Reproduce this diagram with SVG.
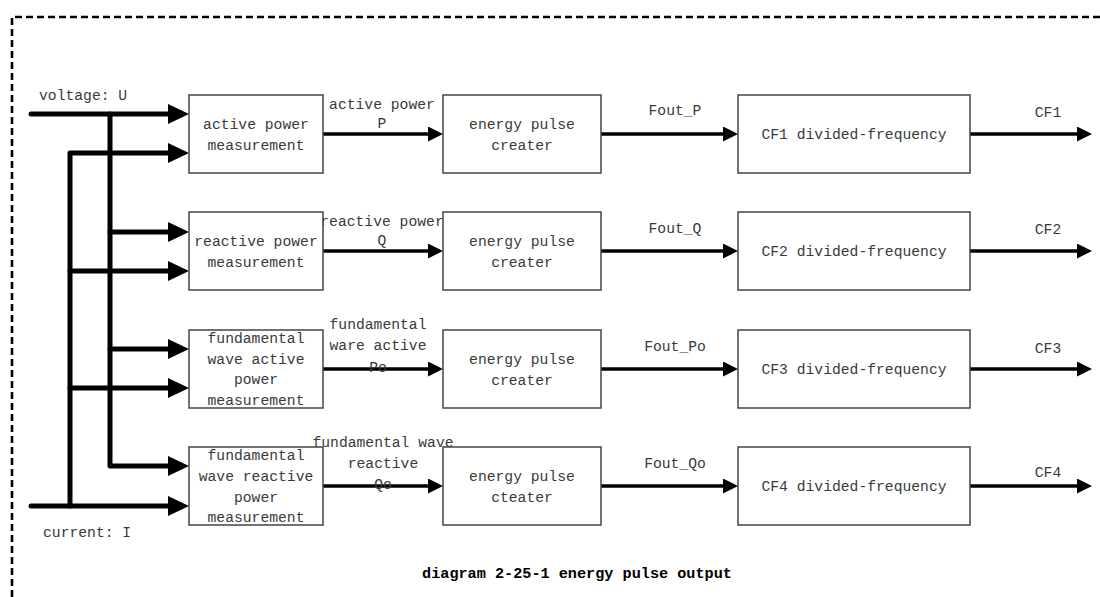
<svg xmlns="http://www.w3.org/2000/svg" width="1100" height="597" viewBox="0 0 1100 597">
  <style>
    .frame { fill: none; stroke: #000; stroke-width: 2.6; stroke-dasharray: 7 4; }
    .box { fill: #fff; stroke: #444; stroke-width: 1.5; }
    .bus { fill: none; stroke: #000; stroke-width: 5; stroke-linecap: round; stroke-linejoin: round; }
    .link { fill: none; stroke: #000; stroke-width: 3.5; }
    text { font-family: "Liberation Mono", "DejaVu Sans Mono", monospace; font-size: 14.7px; fill: #3a3a3a; }
    .c { text-anchor: middle; }
    .cap { font-weight: bold; fill: #000; font-size: 15.2px; }
  </style>
  <defs>
    <marker id="bigHead" markerUnits="userSpaceOnUse" markerWidth="22" markerHeight="22" refX="0" refY="10" orient="auto">
      <path d="M0,0 L21,10 L0,20 z" fill="#000"/>
    </marker>
    <marker id="head" markerUnits="userSpaceOnUse" markerWidth="16" markerHeight="16" refX="0" refY="7.5" orient="auto">
      <path d="M0,0 L15,7.5 L0,15 z" fill="#000"/>
    </marker>
  </defs>

  <rect width="1100" height="597" fill="#fff"/>

  <!-- dashed enclosure -->
  <path class="frame" d="M12,597 L12,17 L1100,17"/>

  <!-- connectors -->
  <g id="connectors">
    <!-- voltage and current buses -->
    <path class="bus" d="M31,114 L168,114" marker-end="url(#bigHead)"/>
    <path class="bus" d="M110,114 L110,466 L168,466" marker-end="url(#bigHead)"/>
    <path class="bus" d="M31,506 L168,506" marker-end="url(#bigHead)"/>
    <path class="bus" d="M70,506 L70,153 L168,153" marker-end="url(#bigHead)"/>
    <path class="bus" d="M110,232 L168,232" marker-end="url(#bigHead)"/>
    <path class="bus" d="M70,271 L168,271" marker-end="url(#bigHead)"/>
    <path class="bus" d="M110,349 L168,349" marker-end="url(#bigHead)"/>
    <path class="bus" d="M70,388 L168,388" marker-end="url(#bigHead)"/>

    <!-- measurement to pulse creater -->
    <path class="link" d="M323,134 L428,134" marker-end="url(#head)"/>
    <path class="link" d="M323,251 L428,251" marker-end="url(#head)"/>
    <path class="link" d="M323,369 L428,369" marker-end="url(#head)"/>
    <path class="link" d="M323,486 L428,486" marker-end="url(#head)"/>

    <!-- pulse creater to divider -->
    <path class="link" d="M601,134 L723,134" marker-end="url(#head)"/>
    <path class="link" d="M601,251 L723,251" marker-end="url(#head)"/>
    <path class="link" d="M601,369 L723,369" marker-end="url(#head)"/>
    <path class="link" d="M601,486 L723,486" marker-end="url(#head)"/>

    <!-- divider outputs -->
    <path class="link" d="M970,134 L1077,134" marker-end="url(#head)"/>
    <path class="link" d="M970,251 L1077,251" marker-end="url(#head)"/>
    <path class="link" d="M970,369 L1077,369" marker-end="url(#head)"/>
    <path class="link" d="M970,486 L1077,486" marker-end="url(#head)"/>

    <!-- connector labels -->
    <text x="39" y="100">voltage: U</text>
    <text x="43" y="537">current: I</text>

    <text class="c" x="382" y="109">active power</text>
    <text class="c" x="382" y="128">P</text>
    <text class="c" x="382" y="226">reactive power</text>
    <text class="c" x="382" y="245">Q</text>
    <text class="c" x="378" y="329">fundamental</text>
    <text class="c" x="378" y="350">ware active</text>
    <text class="c" x="378" y="372">Po</text>
    <text class="c" x="383" y="447">fundamental wave</text>
    <text class="c" x="383" y="468">reactive</text>
    <text class="c" x="383" y="489">Qo</text>

    <text class="c" x="675" y="115">Fout_P</text>
    <text class="c" x="675" y="233">Fout_Q</text>
    <text class="c" x="675" y="351">Fout_Po</text>
    <text class="c" x="675" y="468">Fout_Qo</text>

    <text class="c" x="1048" y="117">CF1</text>
    <text class="c" x="1048" y="234">CF2</text>
    <text class="c" x="1048" y="353">CF3</text>
    <text class="c" x="1048" y="477">CF4</text>
  </g>

  <!-- measurement blocks -->
  <g id="active-power-measurement">
    <rect class="box" x="189" y="95" width="134" height="78"/>
    <text class="c" x="256" y="129">active power</text>
    <text class="c" x="256" y="150">measurement</text>
  </g>
  <g id="reactive-power-measurement">
    <rect class="box" x="189" y="212" width="134" height="78"/>
    <text class="c" x="256" y="246">reactive power</text>
    <text class="c" x="256" y="267">measurement</text>
  </g>
  <g id="fundamental-active-measurement">
    <rect class="box" x="189" y="330" width="134" height="78"/>
    <text class="c" x="256" y="343">fundamental</text>
    <text class="c" x="256" y="364">wave active</text>
    <text class="c" x="256" y="384">power</text>
    <text class="c" x="256" y="405">measurement</text>
  </g>
  <g id="fundamental-reactive-measurement">
    <rect class="box" x="189" y="447" width="134" height="78"/>
    <text class="c" x="256" y="460">fundamental</text>
    <text class="c" x="256" y="481">wave reactive</text>
    <text class="c" x="256" y="502">power</text>
    <text class="c" x="256" y="522">measurement</text>
  </g>

  <!-- pulse creaters -->
  <g id="pulse-creater-1">
    <rect class="box" x="443" y="95" width="158" height="78"/>
    <text class="c" x="522" y="129">energy pulse</text>
    <text class="c" x="522" y="150">creater</text>
  </g>
  <g id="pulse-creater-2">
    <rect class="box" x="443" y="212" width="158" height="78"/>
    <text class="c" x="522" y="246">energy pulse</text>
    <text class="c" x="522" y="267">creater</text>
  </g>
  <g id="pulse-creater-3">
    <rect class="box" x="443" y="330" width="158" height="78"/>
    <text class="c" x="522" y="364">energy pulse</text>
    <text class="c" x="522" y="385">creater</text>
  </g>
  <g id="pulse-creater-4">
    <rect class="box" x="443" y="447" width="158" height="78"/>
    <text class="c" x="522" y="481">energy pulse</text>
    <text class="c" x="522" y="502">cteater</text>
  </g>

  <!-- frequency dividers -->
  <g id="cf1-divider">
    <rect class="box" x="738" y="95" width="232" height="78"/>
    <text class="c" x="854" y="139">CF1 divided-frequency</text>
  </g>
  <g id="cf2-divider">
    <rect class="box" x="738" y="212" width="232" height="78"/>
    <text class="c" x="854" y="256">CF2 divided-frequency</text>
  </g>
  <g id="cf3-divider">
    <rect class="box" x="738" y="330" width="232" height="78"/>
    <text class="c" x="854" y="374">CF3 divided-frequency</text>
  </g>
  <g id="cf4-divider">
    <rect class="box" x="738" y="447" width="232" height="78"/>
    <text class="c" x="854" y="491">CF4 divided-frequency</text>
  </g>

  <text class="c cap" x="577" y="578">diagram 2-25-1 energy pulse output</text>
</svg>
